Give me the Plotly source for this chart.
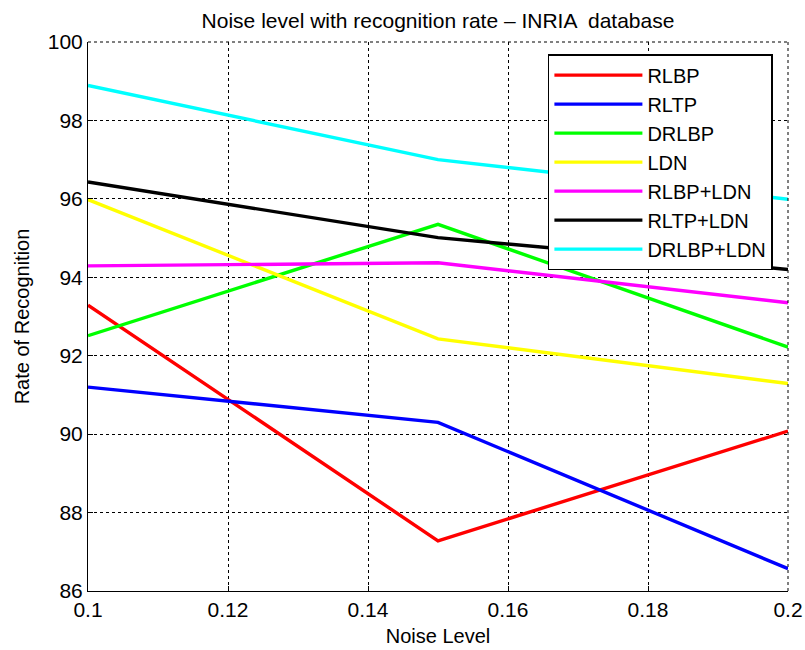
import plotly.graph_objects as go

noise = [0.1, 0.15, 0.2]
names = ["RLBP", "RLTP", "DRLBP", "LDN", "RLBP+LDN", "RLTP+LDN", "DRLBP+LDN"]
rlbp = [93.29, 87.28, 90.08]
rltp = [91.2, 90.30, 86.57]
drlbp = [92.51, 95.35, 92.22]
ldn = [95.98, 92.43, 91.29]
rlbp_ldn = [94.29, 94.37, 93.35]
rltp_ldn = [96.43, 95.01, 94.2]
drlbp_ldn = [98.89, 97.0, 95.99]
colors = ["#ff0000", "#0000ff", "#00ff00", "#ffff00", "#ff00ff", "#000000", "#00ffff"]
series = [rlbp, rltp, drlbp, ldn, rlbp_ldn, rltp_ldn, drlbp_ldn]

font = "Liberation Sans, Arial"
fig = go.Figure()
for n, s, c in zip(names, series, colors):
    fig.add_trace(go.Scatter(x=noise, y=s, mode="lines", name=n,
                             line=dict(color=c, width=3.4)))

axis_common = dict(showgrid=True, gridcolor="black", griddash="dot", gridwidth=1,
                   showline=True, linecolor="black", linewidth=1, mirror=False,
                   ticks="inside", ticklen=5, tickcolor="black", zeroline=False,
                   automargin=False,
                   tickfont=dict(family=font, size=21, color="black"))
fig.update_xaxes(range=[0.1, 0.2], tickvals=[0.1, 0.12, 0.14, 0.16, 0.18, 0.2],
                 ticktext=["0.1", "0.12", "0.14", "0.16", "0.18", "0.2"],
                 title=dict(text="Noise Level", font=dict(family=font, size=20, color="black"), standoff=8),
                 **axis_common)
fig.update_yaxes(range=[86, 100], tickvals=[86, 88, 90, 92, 94, 96, 98, 100],
                 title=dict(text="Rate of Recognition", font=dict(family=font, size=20, color="black"), standoff=12),
                 **axis_common)
fig.add_shape(type="line", xref="paper", yref="paper", x0=0, x1=1, y0=1, y1=1,
              line=dict(color="black", width=1, dash="dot"))
fig.add_shape(type="line", xref="paper", yref="paper", x0=1, x1=1, y0=0, y1=1,
              line=dict(color="black", width=1, dash="dot"))
fig.update_layout(
    width=805, height=650,
    margin=dict(l=88, r=17, t=42, b=59),
    paper_bgcolor="white", plot_bgcolor="white",
    title=dict(text="Noise level with recognition rate \u2013 INRIA  database",
               x=0.5, xanchor="center", xref="paper", y=0.968, yanchor="middle",
               font=dict(family=font, size=21, color="black")),
    legend=dict(x=0.657, y=0.978, xanchor="left", yanchor="top",
                bgcolor="white", bordercolor="black", borderwidth=1.5,
                font=dict(family=font, size=20, color="black"),
                itemwidth=88, tracegroupgap=0),
    showlegend=True,
)
fig.write_html("out.html", config={"displayModeBar": False},
               post_script="document.body.style.margin='0';document.body.style.overflow='hidden';")
